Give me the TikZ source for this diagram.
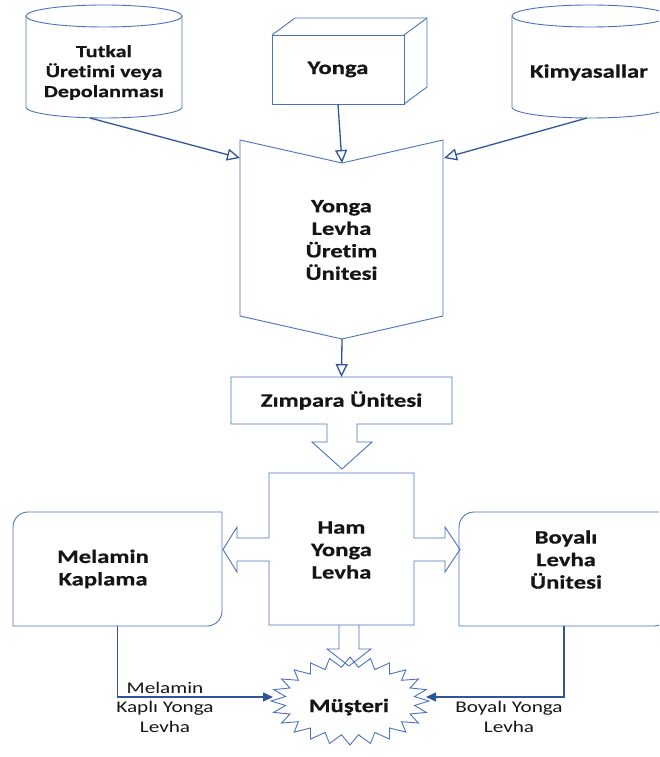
\documentclass[tikz,border=0pt]{standalone}
\usepackage{fontspec}
\setmainfont{Carlito}[FakeStretch=1.3, Ligatures=NoCommon, BoldFeatures={FakeBold=0.6}]
\usetikzlibrary{arrows.meta}

\definecolor{edgeblue}{HTML}{4A72C0}
\definecolor{linkblue}{HTML}{2F5597}
\definecolor{ink}{HTML}{151515}

\tikzset{
  outline/.style={draw=edgeblue, line width=0.9pt, line join=miter},
  area/.style={inner sep=0pt, outer sep=0pt},
  bigtext/.style={font=\bfseries\fontsize{19}{22.5}\selectfont, text=ink, align=center},
  midtext/.style={font=\bfseries\fontsize{17}{20}\selectfont, text=ink, align=center},
  flowlabel/.style={font=\fontsize{16.3}{19.5}\selectfont, text=ink, align=center},
  feed/.style={draw=linkblue, line width=1.3pt, -{Triangle[open, length=13pt, width=12pt]}},
  deliver/.style={draw=linkblue, line width=1.3pt, -{Triangle[length=10pt, width=9pt]}},
}

\begin{document}
\begin{tikzpicture}[x=1pt, y=-1pt]
  \useasboundingbox (0,0) rectangle (659,757);
  \clip (0,0) rectangle (659,757);

  % ---------- inputs ----------
  % glue store (cylinder)
  \node[area, minimum width=156pt, minimum height=91pt, midtext] (glue) at (104,72.5)
    {Tutkal\\Üretimi veya\\Depolanması};
  \draw[outline] (104,16) ellipse [x radius=78, y radius=11];
  \draw[outline] (26,16) -- (26,107)
    plot[domain=180:0, samples=60] ({104+78*cos(\x)},{107+11*sin(\x)})
    -- (182,16);

  % chips (cube)
  \node[area, minimum width=132pt, minimum height=69pt, bigtext] (chip) at (338,69.5) {Yonga};
  \draw[outline] (chip.north west) rectangle (chip.south east);
  \draw[outline] (chip.north west) -- ++(23,-17) -- ([shift={(23,-17)}]chip.north east)
    -- ([shift={(23,-17)}]chip.south east) -- (chip.south east);
  \draw[outline] ([shift={(23,-17)}]chip.north east) -- (chip.north east);

  % chemicals (cylinder)
  \node[area, minimum width=156pt, minimum height=91pt, bigtext] (chem) at (589,72.5) {Kimyasallar};
  \draw[outline] (590,16) ellipse [x radius=78, y radius=11];
  \draw[outline] (512,16) -- (512,107)
    plot[domain=180:0, samples=60] ({590+78*cos(\x)},{107+11*sin(\x)})
    -- (668,16);

  % ---------- production unit (pentagon) ----------
  \node[area, bigtext] (prod) at (341.5,240) {Yonga\\Levha\\Üretim\\Ünitesi};
  \draw[outline] (240,140) -- (342,163) -- (443,140) -- (443,316) -- (342,339) -- (240,316) -- cycle;
  \coordinate (pL) at (240,158);
  \coordinate (pM) at (342,163);
  \coordinate (pR) at (444,158);
  \coordinate (pB) at (342,339);

  \draw[feed] ([xshift=-14pt]glue.south) -- (pL);
  \draw[feed] (chip.south) -- (pM);
  \draw[feed] ([xshift=-2pt]chem.south) -- (pR);

  % ---------- sanding unit with its block arrow ----------
  \node[area, minimum width=221pt, minimum height=47pt, bigtext] (zimp) at (341.5,400.5) {Zımpara Ünitesi};
  \draw[outline] (231,377) -- (452,377) -- (452,424) -- (357,424) -- (357,442) -- (372,442)
    -- (342,469) -- (312,442) -- (327,442) -- (327,424) -- (231,424) -- cycle;
  \draw[feed] (pB) -- (zimp.north);

  % ---------- raw board with side block arrows ----------
  \node[area, bigtext] (ham) at (341.5,550) {Ham\\Yonga\\Levha};
  \draw[outline] (269,473) -- (414,473) -- (414,538) -- (445,538) -- (445,527) -- (460,549.5)
    -- (445,572) -- (445,561) -- (414,561) -- (414,625) -- (269,625) -- (269,561)
    -- (237,561) -- (237,572) -- (223,549.5) -- (237,527) -- (237,538) -- (269,538) -- cycle;
  \draw[outline] (339,625) -- (339,649) -- (327,649) -- (349,666) -- (371,649) -- (359,649) -- (359,625);

  % melamine coating
  \node[area, minimum width=209pt, minimum height=114pt] (mel) at (117.5,569) {};
  \draw[outline] (mel.south west) -- (mel.west)
    {[rounded corners=15pt] -- (mel.north west) -- (mel.north)}
    -- (mel.north east) -- (mel.east)
    {[rounded corners=15pt] -- (mel.south east) -- (mel.south)}
    -- cycle;
  \node[area, bigtext] (meltxt) at (103,569) {Melamin\\Kaplama};

  % painted board unit
  \node[area, minimum width=210pt, minimum height=114pt] (paint) at (564,569) {};
  \draw[outline] (paint.south west) -- (paint.west)
    {[rounded corners=15pt] -- (paint.north west) -- (paint.north)}
    -- (paint.north east) -- (paint.east)
    {[rounded corners=15pt] -- (paint.south east) -- (paint.south)}
    -- cycle;
  \node[area, bigtext] (painttxt) at (566,559.5) {Boyalı\\Levha\\Ünitesi};

  % ---------- customer (starburst) ----------
  \draw[outline] plot[variable=\k, domain=0:47, samples=48]
    ({350+(mod(\k,2)<0.5 ? 79 : 65)*cos(\k*7.5)},{701+(mod(\k,2)<0.5 ? 44 : 34)*sin(\k*7.5)}) -- cycle;
  \node[area, bigtext] (mus) at (349,707) {Müşteri};
  \coordinate (musL) at (273,697);
  \coordinate (musR) at (426,697);

  \draw[deliver] (mel.south) |- (musL);
  \draw[deliver] (paint.south) |- (musR);
  \node[area, flowlabel] (mellab) at (165,707) {Melamin\\Kaplı Yonga\\Levha};
  \node[area, flowlabel] (paintlab) at (509,717) {Boyalı Yonga\\Levha};
\end{tikzpicture}
\end{document}
